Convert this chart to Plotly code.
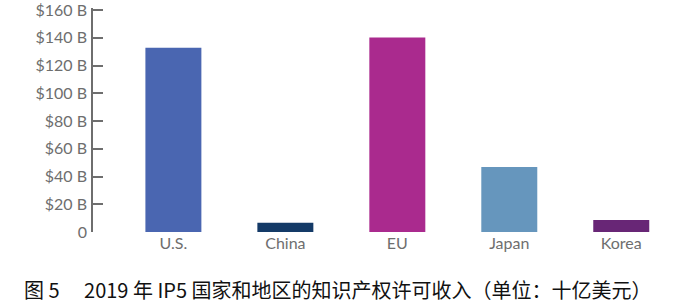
import plotly.graph_objects as go

# IP licensing receipts by IP5 office region, 2019 (billion USD)
regions = ["U.S.", "China", "EU", "Japan", "Korea"]
receipts = [132.8, 6.7, 140.3, 46.8, 8.6]
bar_colors = ["#4A66B1", "#143A67", "#AA2A8E", "#6696BD", "#682676"]

tick_vals = [0, 20, 40, 60, 80, 100, 120, 140, 160]
tick_text = ["0", "$20 B", "$40 B", "$60 B", "$80 B", "$100 B", "$120 B", "$140 B", "$160 B"]

caption = "图 5\u2003 2019 年 IP5 国家和地区的知识产权许可收入（单位：十亿美元）"

fig = go.Figure(
    go.Bar(
        x=regions,
        y=receipts,
        marker=dict(color=bar_colors, line=dict(width=0)),
        width=0.5,
    )
)

axis_font = dict(family="Lato, Open Sans, sans-serif", size=16, color="#6E6E6E")

fig.update_layout(
    width=675,
    height=303,
    margin=dict(l=93, r=0, t=8, b=71),
    paper_bgcolor="white",
    plot_bgcolor="white",
    showlegend=False,
    xaxis=dict(
        type="category",
        range=[-0.718, 4.48],
        showline=False,
        showgrid=False,
        ticks="",
        tickfont=axis_font,
        fixedrange=True,
    ),
    yaxis=dict(
        range=[0, 161.5],
        tickvals=tick_vals,
        ticktext=tick_text,
        showgrid=False,
        zeroline=False,
        showline=True,
        linecolor="#6E6E6E",
        linewidth=1.5,
        ticks="inside",
        ticklen=10,
        tickwidth=1.5,
        tickcolor="#6E6E6E",
        tickfont=axis_font,
        ticklabelstandoff=1,
        ticklabeloverflow="allow",
    ),
    annotations=[
        dict(
            text=caption,
            xref="paper",
            yref="paper",
            x=-93 / 582,
            y=-(289 - 232) / 224,
            xanchor="left",
            yanchor="middle",
            xshift=22,
            align="left",
            showarrow=False,
            font=dict(family="Noto Sans CJK SC", size=20, color="#111111"),
        )
    ],
)

fig.write_html("out.html")
